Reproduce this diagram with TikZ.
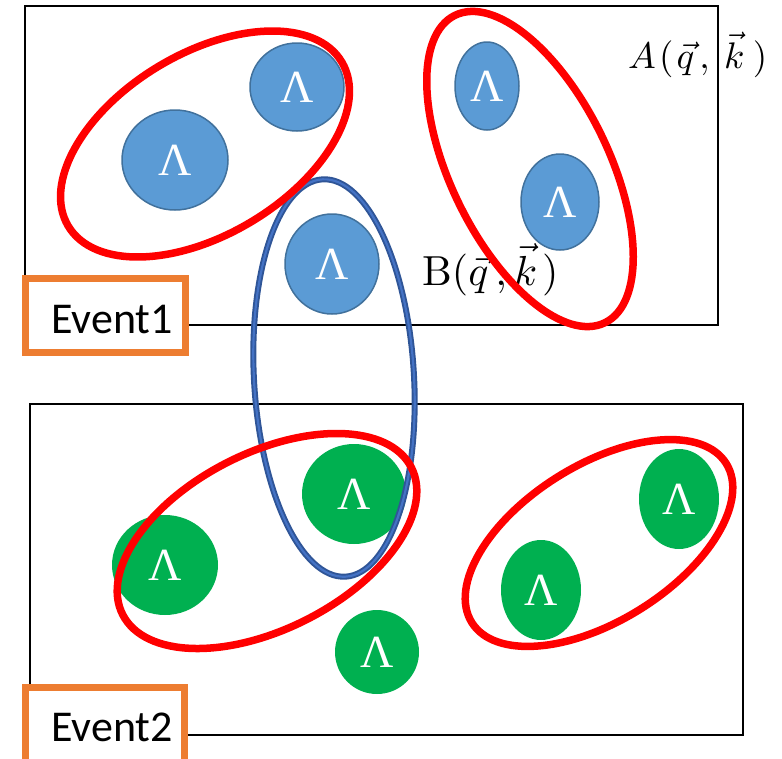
\documentclass[tikz,border=0pt]{standalone}
\usepackage{fontspec}
\usepackage{graphicx}
\newfontfamily\calibri{Carlito}
\newfontfamily\greekserif{Liberation Serif}
\usetikzlibrary{shapes.geometric}

\definecolor{lamblue}{HTML}{5B9BD5}
\definecolor{lamblueedge}{HTML}{41719C}
\definecolor{lamgreen}{HTML}{00B050}
\definecolor{pairred}{HTML}{FF0000}
\definecolor{ringdark}{HTML}{2F5597}
\definecolor{ringlight}{HTML}{4472C4}
\definecolor{evorange}{HTML}{ED7D31}

\begin{document}
\begin{tikzpicture}[x=1pt,y=-1pt,
  lambda/.style={ellipse, inner sep=0pt, text=white,
    font=\greekserif\fontsize{46}{46}\selectfont},
  bluelam/.style={lambda, fill=lamblue, draw=lamblueedge, line width=1.5pt},
  greenlam/.style={lambda, fill=lamgreen},
  pairring/.style={ellipse, draw=pairred, line width=7.5pt, inner sep=0pt},
  mixouter/.style={ellipse, draw=ringdark, line width=6pt, inner sep=0pt},
  mixinner/.style={ellipse, draw=ringlight, line width=2.2pt, inner sep=0pt},
  eventbox/.style={rectangle, draw=evorange, fill=white, line width=7pt, inner sep=0pt},
  eventlabel/.style={inner sep=0pt, font=\calibri\fontsize{44}{44}\selectfont},
  framebox/.style={draw=black, line width=1.8pt},
  corrlabel/.style={inner sep=0pt, anchor=base west}]

\useasboundingbox (0,0) rectangle (782,758);
\clip (0,0) rectangle (782,758);

% event frames
\draw[framebox] (25,6) rectangle (718,325);
\draw[framebox] (30,404) rectangle (743,735);

% correlation function labels
\node[corrlabel] (labA) at (628,68)
  {\scalebox{3.7}{$A\mkern1.5mu(\mkern1.5mu\vec{q}\mkern2.5mu,\mkern4mu\vec{k}\mkern4mu)$}};
\node[corrlabel] (labB) at (422,285)
  {\scalebox{4.2}{$\mathrm{B}(\vec{q}\mkern3mu,\vec{k}\mkern2mu)$}};

% Lambdas of event 1
\node[bluelam, minimum width=106, minimum height=100] (b1) at (175,160) {Λ};
\node[bluelam, minimum width=94,  minimum height=88]  (b2) at (297,87)  {Λ};
\node[bluelam, minimum width=64,  minimum height=88]  (b3) at (487,86)  {Λ};
\node[bluelam, minimum width=78,  minimum height=96]  (b4) at (560,202) {Λ};
\node[bluelam, minimum width=94,  minimum height=100] (b5) at (332,264) {Λ};

% Lambdas of event 2
\node[greenlam, minimum width=106, minimum height=100] (g1) at (165,565) {Λ};
\node[greenlam, minimum width=104, minimum height=100] (g2) at (354,494) {Λ};
\node[greenlam, minimum width=84,  minimum height=84]  (g3) at (377,652) {Λ};
\node[greenlam, minimum width=80,  minimum height=100] (g4) at (679,499) {Λ};
\node[greenlam, minimum width=80,  minimum height=100] (g5) at (541,590) {Λ};

% mixed-event pair
\node[mixouter, minimum width=160, minimum height=398, rotate=3.3] (mixA) at (334,378) {};
\node[mixinner, minimum width=160, minimum height=398, rotate=3.3] (mixB) at (334,378) {};

% same-event pairs
\node[pairring, minimum width=319, minimum height=181, rotate=31]  (p1) at (205,144) {};
\node[pairring, minimum width=342, minimum height=158, rotate=-64] (p2) at (530,169) {};
\node[pairring, minimum width=324, minimum height=176, rotate=27]  (p3) at (267,541) {};
\node[pairring, minimum width=300, minimum height=156, rotate=32]  (p4) at (599,543) {};

% event tags
\node[eventbox, minimum width=160, minimum height=74] (ev1box) at (105.5,315.5) {};
\node[eventlabel] (ev1) at (112,319) {Event1};
\node[eventbox, minimum width=159, minimum height=86] (ev2box) at (105,730) {};
\node[eventlabel] (ev2) at (112,727) {Event2};

\end{tikzpicture}
\end{document}
